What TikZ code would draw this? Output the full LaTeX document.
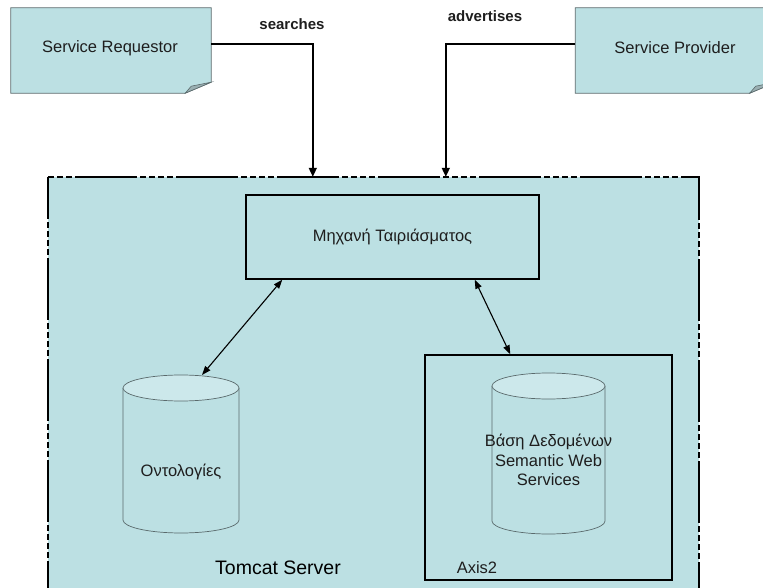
\documentclass[tikz,border=0pt]{standalone}
\usepackage{fontspec}
\setmainfont{Liberation Sans}
\usetikzlibrary{arrows.meta}
\definecolor{panel}{HTML}{BCE0E3}
\definecolor{captop}{HTML}{CCE8EB}
\definecolor{inktext}{HTML}{1E1E1E}
\definecolor{noteline}{HTML}{5A6A6C}
\definecolor{foldfill}{HTML}{9AAFB2}
\begin{document}
\begin{tikzpicture}[x=1pt,y=-1pt,
  lbl/.style={font=\fontsize{16.5}{19.5}\selectfont, text=inktext, inner sep=0pt},
  flowlbl/.style={font=\bfseries\fontsize{15}{18}\selectfont, text=inktext, inner sep=0pt},
  notebox/.style={minimum width=200pt, minimum height=85pt, inner sep=0pt, lbl},
  frame/.style={draw=black, line width=1.4pt},
  flow/.style={draw=black, line width=1.5pt, -{Triangle[length=9pt,width=8pt]}},
  link/.style={draw=black, line width=1.1pt,
    {Triangle[length=9pt,width=6.5pt]}-{Triangle[length=9pt,width=6.5pt]}},
  cylline/.style={draw=noteline, line width=0.7pt},
  serverline/.style={draw=black, line width=1.6pt,
    dash pattern=on 62pt off 3pt on 6pt off 3pt on 6pt off 3pt on 6pt off 3pt on 6pt off 3pt}
]
\useasboundingbox (0,0) rectangle (763,588);
\clip (0,0) rectangle (763,588);

% server panel
\node[fill=panel, minimum width=651pt, minimum height=425pt, inner sep=0pt] (tomcat) at (373.5,389.5) {};
\draw[serverline, dash phase=74pt] (tomcat.north west) -- (tomcat.north east) -- (tomcat.south east);
\draw[serverline, dash phase=20pt] (tomcat.north west) -- (tomcat.south west);
\node[font=\fontsize{19.5}{22}\selectfont, inner sep=0pt] (tclabel) at (278,568) {Tomcat Server};

% matching engine
\node[frame, minimum width=293pt, minimum height=84pt, lbl] (engine) at (392.5,237) {Μηχανή Ταιριάσματος};

% Axis2 container
\node[frame, minimum width=247pt, minimum height=225pt] (axis) at (548.5,467.5) {};
\node[lbl] (axislabel) at (477,568) {Axis2};

% ontology store
\fill[panel] (123,388) -- (123,520) arc[start angle=180,end angle=360,x radius=58pt,y radius=13pt] -- (239,388) -- cycle;
\draw[cylline] (123,388) -- (123,520) arc[start angle=180,end angle=360,x radius=58pt,y radius=13pt] -- (239,388);
\draw[cylline, fill=captop] (181,388) ellipse[x radius=58pt, y radius=13pt];
\node[lbl] (onto) at (181,472) {Οντολογίες};
\coordinate (ontotop) at (202,375);

% semantic web services store
\fill[panel] (492,386) -- (492,521) arc[start angle=180,end angle=360,x radius=56.5pt,y radius=13pt] -- (605,386) -- cycle;
\draw[cylline] (492,386) -- (492,521) arc[start angle=180,end angle=360,x radius=56.5pt,y radius=13pt] -- (605,386);
\draw[cylline, fill=captop] (548.5,386) ellipse[x radius=56.5pt, y radius=13pt];
\node[lbl, align=center] (swdb) at (548.5,460) {Βάση Δεδομένων\\Semantic Web\\Services};

% requestor and provider notes
\node[notebox] (req) at (111,50.5) {};
\node[notebox] (prov) at (675.5,50.5) {};
\foreach \n in {req,prov}{
  \filldraw[fill=panel, draw=noteline, line width=0.8pt]
    (\n.north west) -- (\n.north east) -- ([yshift=11pt]\n.south east)
    -- ([xshift=-26pt]\n.south east) -- (\n.south west) -- cycle;
  \filldraw[fill=foldfill, draw=noteline, line width=0.6pt]
    ([yshift=11pt]\n.south east) -- ([xshift=-26pt]\n.south east)
    -- ([xshift=-20pt,yshift=7pt]\n.south east) -- cycle;
}
\node[lbl] (reqtext) at (110,48) {Service Requestor};
\node[lbl] (provtext) at (675,48) {Service Provider};

% flows into the server
\node[flowlbl] (srch) at (292,24) {searches};
\node[flowlbl] (adv) at (485,16) {advertises};
\draw[flow] ([yshift=6.5pt]req.east) -| ([xshift=265pt]tomcat.north west);
\draw[flow] ([yshift=6.5pt]prov.west) -| ([xshift=398pt]tomcat.north west);

% engine links
\draw[link] ([xshift=37pt]engine.south west) -- (ontotop);
\draw[link] ([xshift=-65pt]engine.south east) -- ([xshift=86pt]axis.north west);
\end{tikzpicture}
\end{document}
